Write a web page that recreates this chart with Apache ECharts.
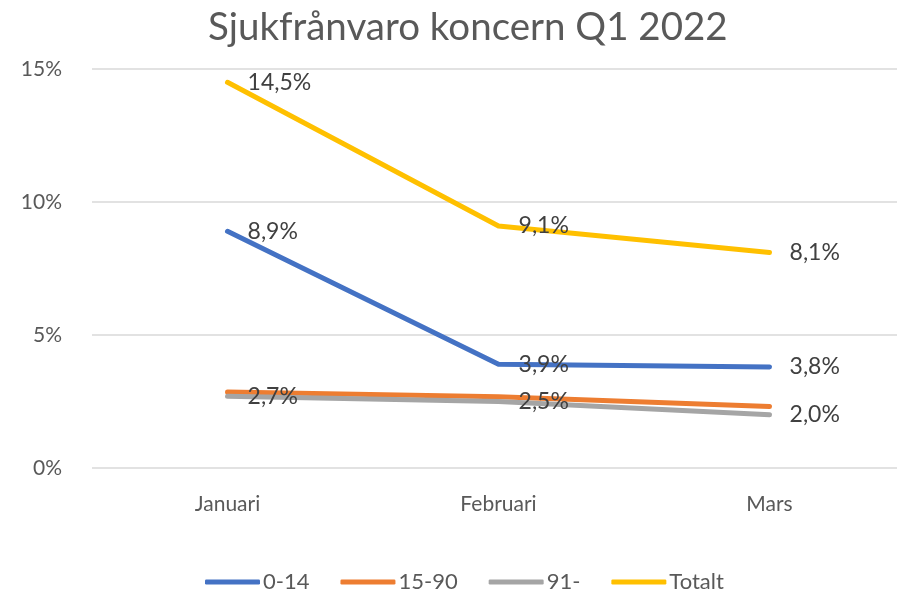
<!DOCTYPE html>
<html>
<head>
<meta charset="utf-8">
<script src="https://cdn.jsdelivr.net/npm/echarts@6/dist/echarts.min.js"></script>
<style>
    html, body { margin: 0; padding: 0; background: #fff; }
    #chart { width: 897px; height: 589px; }
</style>
</head>
<body>
<div id="chart"></div>
<script>
// data
var months = ["Januari", "Februari", "Mars"];
var seriesNames = ["0-14", "15-90", "91-", "Totalt"];
var grp0_14 = [8.9, 3.9, 3.8];
var grp15_90 = [2.86, 2.68, 2.31];
var grp91 = [2.7, 2.5, 2.0];
var totalt = [14.5, 9.1, 8.1];
var yTicks = [0, 5, 10, 15];

var colors = ["#4472C4", "#ED7D31", "#A5A5A5", "#FFC000"];
var fontName = "Lato, 'Open Sans', sans-serif";

function pct(v) {
    return v.toFixed(1).replace(".", ",") + "%";
}

function lineSerie(name, data, color, showLabel) {
    return {
        name: name,
        type: "line",
        data: data,
        symbol: "circle",
        symbolSize: 0.1,
        showSymbol: true,
        lineStyle: { width: 5, color: color, cap: "round", join: "round" },
        itemStyle: { color: color },
        label: {
            show: showLabel,
            position: "right",
            distance: 20,
            color: "#404040",
            fontSize: 23,
            fontFamily: fontName,
            formatter: function (p) { return pct(p.value); }
        },
        emphasis: { disabled: true }
    };
}

var chart = echarts.init(document.getElementById("chart"));
chart.setOption({
    backgroundColor: "#fff",
    animation: false,
    color: colors,
    title: {
        text: "Sjukfrånvaro koncern Q1 2022",
        left: 203,
        top: 3,
        textStyle: { color: "#595959", fontSize: 38.5, fontWeight: "normal", fontFamily: fontName }
    },
    legend: {
        data: seriesNames,
        left: 200,
        top: 566,
        icon: "roundRect",
        itemWidth: 55,
        itemHeight: 5,
        itemGap: 31,
        textStyle: { color: "#595959", fontSize: 22, fontFamily: fontName, padding: [0, 0, 0, -2] }
    },
    grid: { left: 92, right: -8, top: 69, bottom: 121, outerBoundsMode: "none" },
    xAxis: {
        type: "category",
        data: months,
        boundaryGap: true,
        axisLine: { show: false },
        axisTick: { show: false },
        axisLabel: { color: "#595959", fontSize: 21, fontFamily: fontName, margin: 26 }
    },
    yAxis: {
        type: "value",
        min: yTicks[0],
        max: yTicks[yTicks.length - 1],
        interval: 5,
        axisLine: { show: false },
        axisTick: { show: false },
        splitLine: { lineStyle: { color: "#D9D9D9", width: 1.5 } },
        axisLabel: {
            color: "#595959", fontSize: 21, fontFamily: fontName, margin: 30,
            formatter: function (v) { return v + "%"; }
        }
    },
    series: [
        lineSerie(seriesNames[0], grp0_14, colors[0], true),
        lineSerie(seriesNames[1], grp15_90, colors[1], false),
        lineSerie(seriesNames[2], grp91, colors[2], true),
        lineSerie(seriesNames[3], totalt, colors[3], true)
    ]
});
</script>
</body>
</html>
